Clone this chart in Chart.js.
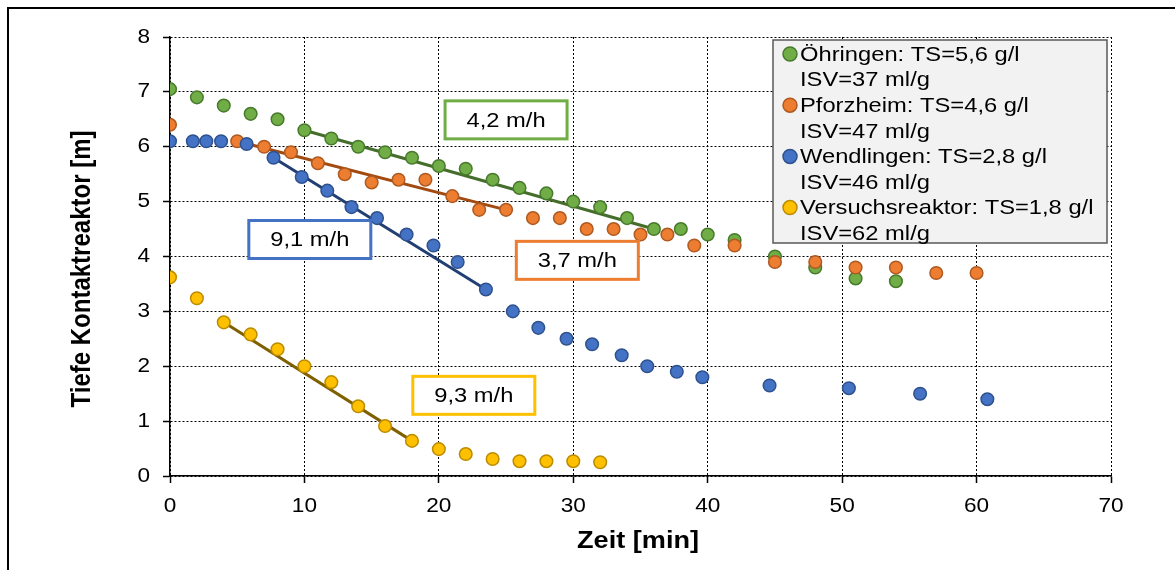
<!DOCTYPE html>
<html>
<head>
    <meta charset="utf-8">
    <title>Tiefe Kontaktreaktor</title>
    <style>
        body { margin: 0; background: #fff; }
        .chart-container { width: 1175px; height: 570px; }
    </style>
    <script src="https://cdn.jsdelivr.net/npm/chart.js"></script>
</head>
<body>
    <div class="chart-container">
        <canvas id="myChart" width="1175" height="570"></canvas>
    </div>

    <script>
        // Öhringen
        const oehrX = [0, 2, 4, 6, 8, 10, 12, 14, 16, 18, 20, 22, 24, 26, 28, 30, 32, 34, 36, 38, 40, 42, 45, 48, 51, 54];
        const oehrY = [7.05, 6.9, 6.75, 6.6, 6.5, 6.3, 6.15, 6.0, 5.9, 5.8, 5.65, 5.6, 5.4, 5.25, 5.15, 5.0, 4.9, 4.7, 4.5, 4.5, 4.4, 4.3, 4.0, 3.8, 3.6, 3.55];
        // Pforzheim
        const pforzX = [0, 5, 7, 9, 11, 13, 15, 17, 19, 21, 23, 25, 27, 29, 31, 33, 35, 37, 39, 42, 45, 48, 51, 54, 57, 60];
        const pforzY = [6.4, 6.1, 6.0, 5.9, 5.7, 5.5, 5.35, 5.4, 5.4, 5.1, 4.85, 4.85, 4.7, 4.7, 4.5, 4.5, 4.4, 4.4, 4.2, 4.2, 3.9, 3.9, 3.8, 3.8, 3.7, 3.7];
        // Wendlingen
        const wendX = [0, 1.7, 2.7, 3.8, 5.7, 7.7, 9.8, 11.7, 13.5, 15.4, 17.6, 19.6, 21.4, 23.5, 25.5, 27.4, 29.5, 31.4, 33.6, 35.5, 37.7, 39.6, 44.6, 50.5, 55.8, 60.8];
        const wendY = [6.1, 6.1, 6.1, 6.1, 6.05, 5.8, 5.45, 5.2, 4.9, 4.7, 4.4, 4.2, 3.9, 3.4, 3.0, 2.7, 2.5, 2.4, 2.2, 2.0, 1.9, 1.8, 1.65, 1.6, 1.5, 1.4];
        // Versuchsreaktor
        const versX = [0, 2, 4, 6, 8, 10, 12, 14, 16, 18, 20, 22, 24, 26, 28, 30, 32];
        const versY = [3.62, 3.24, 2.8, 2.58, 2.31, 2.0, 1.71, 1.27, 0.91, 0.64, 0.49, 0.4, 0.31, 0.27, 0.27, 0.27, 0.25];

        // fitted lines (start, end)
        const oehrFitX = [10, 36], oehrFitY = [6.3, 4.5];
        const pforzFitX = [5, 25], pforzFitY = [6.1, 4.85];
        const wendFitX = [7.7, 23.5], wendFitY = [5.8, 3.4];
        const versFitX = [4, 18], versFitY = [2.8, 0.64];

        const legendTS = ['Öhringen: TS=5,6 g/l', 'Pforzheim: TS=4,6 g/l', 'Wendlingen: TS=2,8 g/l', 'Versuchsreaktor: TS=1,8 g/l'];
        const legendISV = ['ISV=37 ml/g', 'ISV=47 ml/g', 'ISV=46 ml/g', 'ISV=62 ml/g'];
        const rateText = ['4,2 m/h', '3,7 m/h', '9,1 m/h', '9,3 m/h'];

        const fills = ['#70ad47', '#ed7d31', '#4472c4', '#ffc000'];
        const edges = ['#477a2b', '#ae5a21', '#2f528f', '#bc8c00'];
        const fitColors = ['#456d2b', '#a24a10', '#223f74', '#7f6000'];
        // where the rate boxes sit, in data units
        const rateBoxAt = [[25, 6.49], [30.3, 3.93], [10.4, 4.31], [22.6, 1.47]];

        // the reference text is drawn about 13% wider than Arial
        const SX = 1.13;
        const fillText0 = CanvasRenderingContext2D.prototype.fillText;
        CanvasRenderingContext2D.prototype.fillText = function (text, x, y) {
            const m = this.getTransform();
            const p = m.transformPoint(new DOMPoint(x, y));
            this.save();
            this.setTransform(new DOMMatrix().translate(p.x, p.y).scale(SX, 1).translate(-p.x, -p.y).multiply(m));
            fillText0.call(this, text, x, y);
            this.restore();
        };

        const pts = (xs, ys) => xs.map((x, i) => ({ x: x, y: ys[i] }));
        const pointSets = [[oehrX, oehrY], [pforzX, pforzY], [wendX, wendY], [versX, versY]];
        const fitSets = [[oehrFitX, oehrFitY], [pforzFitX, pforzFitY], [wendFitX, wendFitY], [versFitX, versFitY]];

        const datasets = [];
        fitSets.forEach((f, i) => {
            datasets.push({
                data: pts(f[0], f[1]),
                showLine: true,
                borderColor: fitColors[i],
                borderWidth: 3,
                pointRadius: 0,
                order: 10
            });
        });
        pointSets.forEach((s, i) => {
            datasets.push({
                label: legendTS[i],
                data: pts(s[0], s[1]),
                backgroundColor: fills[i],
                borderColor: edges[i],
                pointRadius: 6.3,
                pointBorderWidth: 1.5,
                order: 4 - i
            });
        });

        const extras = {
            id: 'extras',
            afterDraw(chart) {
                const ctx = chart.ctx;
                const xs = chart.scales.x, ys = chart.scales.y;
                ctx.save();

                // frame round the picture
                ctx.strokeStyle = '#000';
                ctx.lineWidth = 2;
                ctx.strokeRect(8, 8, 1200, 600);

                // axis titles
                ctx.fillStyle = '#000';
                ctx.font = "bold 24px 'Liberation Sans', Arial, sans-serif";
                ctx.textAlign = 'center';
                ctx.textBaseline = 'middle';
                ctx.fillText('Zeit [min]', 638, 541);
                ctx.save();
                ctx.translate(83, 269);
                ctx.rotate(-Math.PI / 2);
                ctx.fillText('Tiefe Kontaktreaktor [m]', 0, 0);
                ctx.restore();

                // rate boxes
                ctx.font = "21px 'Liberation Sans', Arial, sans-serif";
                rateText.forEach((t, i) => {
                    const cx = xs.getPixelForValue(rateBoxAt[i][0]);
                    const cy = ys.getPixelForValue(rateBoxAt[i][1]);
                    ctx.fillStyle = '#fff';
                    ctx.fillRect(cx - 61, cy - 19, 122, 38);
                    ctx.strokeStyle = fills[i];
                    ctx.lineWidth = 3;
                    ctx.strokeRect(cx - 61, cy - 19, 122, 38);
                    ctx.fillStyle = '#000';
                    ctx.fillText(t, cx, cy + 1);
                });

                // legend
                ctx.fillStyle = '#f2f2f2';
                ctx.fillRect(773, 40, 334, 203);
                ctx.strokeStyle = '#595959';
                ctx.lineWidth = 1.5;
                ctx.strokeRect(773, 40, 334, 203);
                ctx.textAlign = 'left';
                legendTS.forEach((t, i) => {
                    const y = 54 + i * 51.2;
                    ctx.beginPath();
                    ctx.arc(790, y, 7, 0, Math.PI * 2);
                    ctx.fillStyle = fills[i];
                    ctx.fill();
                    ctx.strokeStyle = edges[i];
                    ctx.lineWidth = 1.5;
                    ctx.stroke();
                    ctx.fillStyle = '#000';
                    ctx.fillText(t, 800, y + 1);
                    ctx.fillText(legendISV[i], 800, y + 26.6);
                });
                ctx.restore();
            }
        };

        Chart.defaults.font.family = "'Liberation Sans', Arial, sans-serif";
        Chart.defaults.color = '#000';

        const ctx = document.getElementById('myChart').getContext('2d');
        const myChart = new Chart(ctx, {
            type: 'scatter',
            data: { datasets: datasets },
            options: {
                responsive: false,
                animation: false,
                layout: { padding: { left: 0, right: 64, top: 37, bottom: 0 } },
                plugins: { legend: { display: false }, tooltip: { enabled: false } },
                scales: {
                    x: {
                        min: 0, max: 70,
                        ticks: { stepSize: 10, font: { size: 20 }, padding: 11 },
                        grid: { color: '#000', tickColor: '#000', tickLength: 7, tickBorderDash: [], tickWidth: 1.5 },
                        border: { color: '#000', width: 1.5, dash: [2, 2] },
                        afterFit: (s) => { s.height = 94; }
                    },
                    y: {
                        min: 0, max: 8,
                        ticks: { stepSize: 1, font: { size: 20 }, padding: 13 },
                        grid: { color: '#000', tickColor: '#000', tickLength: 7, tickBorderDash: [], tickWidth: 1.5 },
                        border: { color: '#000', width: 1.5, dash: [2, 2] },
                        afterFit: (s) => { s.width = 170; }
                    }
                }
            },
            plugins: [extras]
        });
    </script>
</body>
</html>
